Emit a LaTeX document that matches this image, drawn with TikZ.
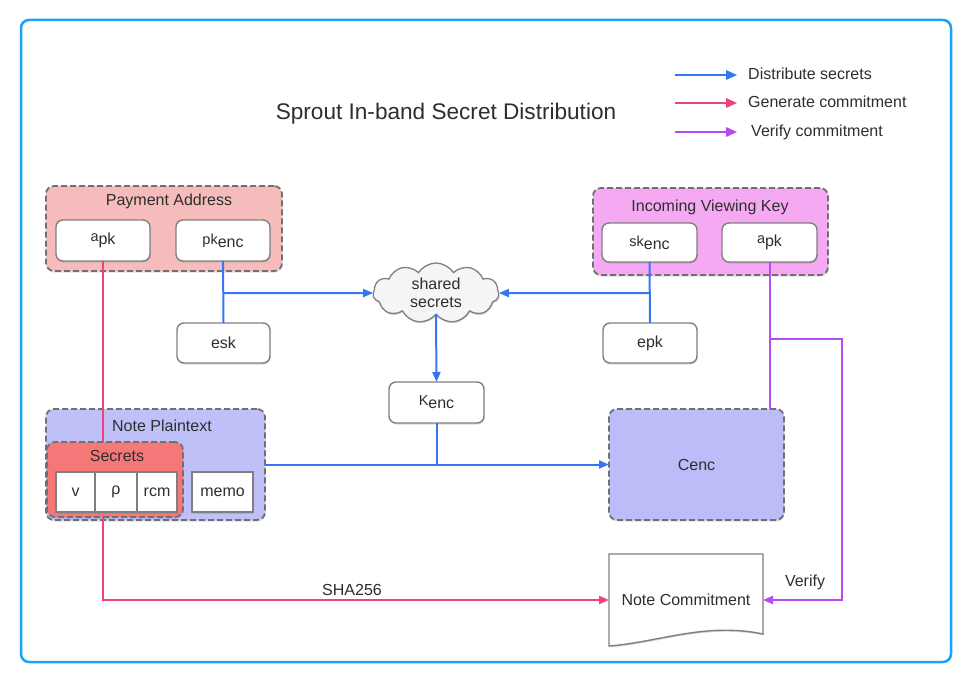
\documentclass[tikz,border=0pt]{standalone}
\usepackage{fontspec}
\setmainfont{Liberation Sans}
\usetikzlibrary{shapes.symbols,shadows,arrows.meta,calc}
\definecolor{framec}{HTML}{1AA2F6}
\definecolor{txt}{HTML}{2E2E2E}
\definecolor{dgray}{HTML}{707070}
\definecolor{bgray}{HTML}{808080}
\definecolor{pafill}{HTML}{F6BCBC}
\definecolor{ivkfill}{HTML}{F5A9F2}
\definecolor{ptfill}{HTML}{C0C0F9}
\definecolor{secfill}{HTML}{F47878}
\definecolor{cencfill}{HTML}{BCBCF9}
\definecolor{bluec}{HTML}{3477F5}
\definecolor{pinkc}{HTML}{F0437D}
\definecolor{purpc}{HTML}{B44CF2}
\newcommand{\subx}[2]{\raisebox{3pt}{\fontsize{14.5}{15}\selectfont #1}#2}
\tikzset{
  grp/.style={draw=dgray, line width=1.8pt, dash pattern=on 6pt off 3pt, rounded corners=8pt,
    inner sep=0pt, outer sep=0pt,
    drop shadow={shadow xshift=0.6pt, shadow yshift=-1.5pt, opacity=0.25}},
  wbox/.style={draw=bgray, line width=1.4pt, fill=white, rounded corners=7pt,
    inner sep=0pt, outer sep=0pt,
    drop shadow={shadow xshift=0.6pt, shadow yshift=-1.5pt, opacity=0.3}},
  sqbox/.style={draw=bgray, line width=1.4pt, fill=white, inner sep=0pt, outer sep=0pt,
    minimum height=40pt,
    drop shadow={shadow xshift=0.6pt, shadow yshift=-1.5pt, opacity=0.3}},
  lbl/.style={text=txt, inner sep=0pt},
  con/.style={line width=2pt},
  tip/.style={-{Triangle[length=10pt,width=8pt]}},
  ltip/.style={-{Triangle[length=11pt,width=9.5pt]}}
}
\begin{document}
\begin{tikzpicture}[x=1pt,y=-1pt,font=\fontsize{16}{19}\selectfont,text=txt]
\useasboundingbox (0,0) rectangle (968,674);
\draw[framec, line width=2.5pt, rounded corners=8pt, fill=white] (21,20) rectangle (951,662);

% title and legend
\node[lbl, font=\fontsize{22.6}{26}\selectfont] (title) at (446,114) {Sprout In-band Secret Distribution};
\coordinate (lgA1) at (675,75); \coordinate (lgB1) at (737,75);
\coordinate (lgA2) at (675,103); \coordinate (lgB2) at (737,103);
\coordinate (lgA3) at (675,132); \coordinate (lgB3) at (737,132);
\draw[con, bluec, ltip] (lgA1) -- (lgB1);
\draw[con, pinkc, ltip] (lgA2) -- (lgB2);
\draw[con, purpc, ltip] (lgA3) -- (lgB3);
\node[lbl, anchor=west] (lg1) at (748,74) {Distribute secrets};
\node[lbl, anchor=west] (lg2) at (748,102) {Generate commitment};
\node[lbl, anchor=west] (lg3) at (751,132) {Verify commitment};

% note commitment (placeholder node, drawn later)
\node[inner sep=0pt, outer sep=0pt, minimum width=154pt, minimum height=92pt] (nc) at (686,600) {};

% Payment address
\node[grp, fill=pafill, minimum width=236pt, minimum height=85pt] (pa) at (164,228.5) {};
\node[lbl] (palbl) at (169,201) {Payment Address};
\node[wbox, minimum width=94pt, minimum height=41pt] (apk) at (103,240.5) {\subx{a}{pk}};
\node[wbox, minimum width=94pt, minimum height=41pt] (pkenc) at (223,240.5) {\subx{pk}{enc}};
\node[wbox, minimum width=93pt, minimum height=40pt] (esk) at (223.5,343) {esk};

% Incoming viewing key
\node[grp, fill=ivkfill, minimum width=235pt, minimum height=87pt] (ivk) at (710.5,231.5) {};
\node[lbl] (ivklbl) at (710,207) {Incoming Viewing Key};
\node[wbox, minimum width=95pt, minimum height=39pt] (skenc) at (649.5,242.5) {\subx{sk}{enc}};
\node[wbox, minimum width=95pt, minimum height=39pt] (apk2) at (769.5,242.5) {\subx{a}{pk}};
\node[wbox, minimum width=94pt, minimum height=40pt] (epk) at (650,343) {epk};

% cloud and Kenc
\node[cloud, cloud puffs=11, cloud puff arc=115, aspect=2.2, draw=bgray, line width=1.3pt, fill=white!96!black,
  minimum width=126pt, minimum height=60pt, inner sep=0pt, outer sep=0pt, align=center,
  drop shadow={shadow xshift=0.6pt, shadow yshift=-1.5pt, opacity=0.3}] (cloud) at (436,293) {shared\\[-1pt]secrets};
\node[wbox, minimum width=95pt, minimum height=41pt] (kenc) at (436.5,402.5) {\subx{K}{enc}};

% Note plaintext
\node[grp, fill=ptfill, minimum width=219pt, minimum height=111pt] (pt) at (155.5,464.5) {};
\node[lbl] (ptlbl) at (162,426) {Note Plaintext};

% pink path (under Secrets)
\draw[con, pinkc, tip] (apk.south) |- (nc.west);

\node[grp, fill=secfill, minimum width=136pt, minimum height=75pt] (sec) at (115,479.5) {};
\node[lbl] (seclbl) at (117,456) {Secrets};
\node[sqbox, minimum width=39pt] (v) at (75.5,492) {v};
\node[sqbox, minimum width=42pt] (rho) at (116,492) {ρ};
\node[sqbox, minimum width=40pt] (rcm) at (157,492) {rcm};
\node[sqbox, minimum width=61pt] (memo) at (222.5,492) {memo};

% Cenc
\node[grp, fill=cencfill, minimum width=175pt, minimum height=111pt] (cenc) at (696.5,464.5) {Cenc};

% Note commitment document shape
\draw[bgray, line width=1.4pt, fill=white, drop shadow={shadow xshift=0.6pt, shadow yshift=-1.5pt, opacity=0.3}]
  (nc.north west) -- (nc.north east) -- ($(nc.north east)+(0,80)$)
  .. controls (705,622) and (660,642) .. (nc.south west) -- cycle;
\node[lbl] (nclbl) at (nc) {Note Commitment};

% blue connectors
\draw[con, bluec] (pkenc.south) -- (esk.north);
\path (pkenc.south) ++(0,32) coordinate (jL);
\draw[con, bluec, tip] (jL) -- (cloud.west);
\draw[con, bluec] (skenc.south) -- (epk.north);
\path (skenc.south) ++(0,31) coordinate (jR);
\draw[con, bluec, tip] (jR) -- (cloud.east);
\draw[con, bluec, tip] (cloud.south) -- (kenc.north);
\draw[con, bluec] (kenc.south) -- (kenc.south |- pt.east);
\draw[con, bluec, tip] (pt.east) -- (cenc.west);

% purple connectors
\draw[con, purpc] (apk2.south) -- (apk2.south |- cenc.north);
\path (apk2.south) ++(0,77) coordinate (jV);
\coordinate (vR) at (842,339);
\draw[con, purpc, tip] (jV) -- (vR) |- (nc.east);

% labels
\node[lbl] (sha) at (352,590) {SHA256};
\node[lbl] (ver) at (805,582) {Verify};
\end{tikzpicture}
\end{document}
